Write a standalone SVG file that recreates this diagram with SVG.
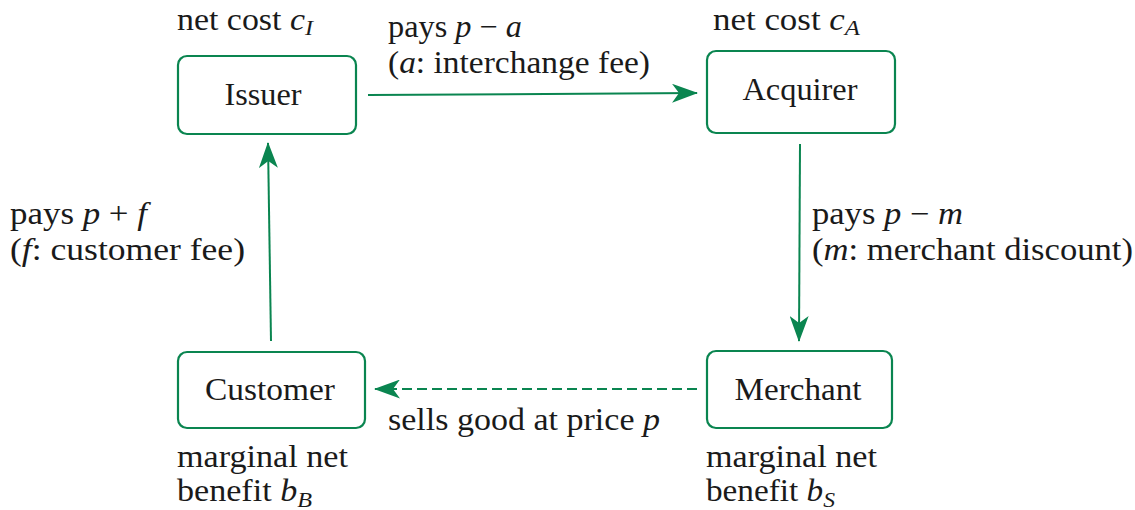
<svg xmlns="http://www.w3.org/2000/svg" width="1135" height="510" viewBox="0 0 1135 510">
<style>
text{font-family:'Liberation Serif','Times New Roman',serif;font-size:31px;fill:#1a1a1a}
.i{font-style:italic}
.s{font-size:22px;font-style:italic}
.box{fill:#fff;stroke:#0a8550;stroke-width:2.2}
.c{stroke:#0a8550;stroke-width:2;fill:none}
.d{stroke-dasharray:10 5}
.m{text-anchor:middle}
</style>
<defs>
<marker id="ah" viewBox="0 0 26 19" refX="25" refY="9.5" markerWidth="26" markerHeight="19" markerUnits="userSpaceOnUse" orient="auto">
<path d="M0,0 L26,9.5 L0,19 L7,9.5 Z" fill="#0a8550"/>
</marker>
</defs>
<g id="connectors">
<line class="c" x1="368" y1="95" x2="697" y2="93" marker-end="url(#ah)"/>
<line class="c" x1="800" y1="144" x2="799" y2="341" marker-end="url(#ah)"/>
<line class="c d" x1="697" y1="389" x2="375" y2="389" marker-end="url(#ah)"/>
<line class="c" x1="271" y1="341" x2="268" y2="143" marker-end="url(#ah)"/>
</g>
<g id="issuer">
<rect class="box" x="178" y="56" width="178" height="78" rx="9"/>
<text class="m" x="263" y="105" textLength="77" lengthAdjust="spacingAndGlyphs">Issuer</text>
<text x="177" y="30" textLength="136" lengthAdjust="spacingAndGlyphs">net cost <tspan class="i">c</tspan><tspan class="s" dy="5">I</tspan></text>
</g>
<g id="acquirer">
<rect class="box" x="707" y="51" width="188" height="82" rx="9"/>
<text class="m" x="800" y="100" textLength="115" lengthAdjust="spacingAndGlyphs">Acquirer</text>
<text x="713" y="30" textLength="147" lengthAdjust="spacingAndGlyphs">net cost <tspan class="i">c</tspan><tspan class="s" dy="5">A</tspan></text>
</g>
<g id="customer">
<rect class="box" x="178" y="352" width="187" height="76" rx="9"/>
<text class="m" x="270" y="400" textLength="130" lengthAdjust="spacingAndGlyphs">Customer</text>
<text x="177" y="467" textLength="171" lengthAdjust="spacingAndGlyphs">marginal net</text>
<text x="177" y="501" textLength="135" lengthAdjust="spacingAndGlyphs">benefit <tspan class="i">b</tspan><tspan class="s" dy="6">B</tspan></text>
</g>
<g id="merchant">
<rect class="box" x="707" y="351" width="185" height="77" rx="9"/>
<text class="m" x="798" y="400" textLength="127" lengthAdjust="spacingAndGlyphs">Merchant</text>
<text x="706" y="467" textLength="171" lengthAdjust="spacingAndGlyphs">marginal net</text>
<text x="706" y="501" textLength="129" lengthAdjust="spacingAndGlyphs">benefit <tspan class="i">b</tspan><tspan class="s" dy="6">S</tspan></text>
</g>
<g id="labels">
<text x="388" y="37" textLength="134" lengthAdjust="spacingAndGlyphs">pays <tspan class="i">p</tspan> − <tspan class="i">a</tspan></text>
<text x="388" y="73" textLength="262" lengthAdjust="spacingAndGlyphs">(<tspan class="i">a</tspan>: interchange fee)</text>
<text x="812" y="224" textLength="151" lengthAdjust="spacingAndGlyphs">pays <tspan class="i">p</tspan> − <tspan class="i">m</tspan></text>
<text x="812" y="260" textLength="321" lengthAdjust="spacingAndGlyphs">(<tspan class="i">m</tspan>: merchant discount)</text>
<text x="10" y="224" textLength="137" lengthAdjust="spacingAndGlyphs">pays <tspan class="i">p</tspan> + <tspan class="i">f</tspan></text>
<text x="10" y="260" textLength="235" lengthAdjust="spacingAndGlyphs">(<tspan class="i">f</tspan>: customer fee)</text>
<text x="388" y="430" textLength="272" lengthAdjust="spacingAndGlyphs">sells good at price <tspan class="i">p</tspan></text>
</g>
</svg>
